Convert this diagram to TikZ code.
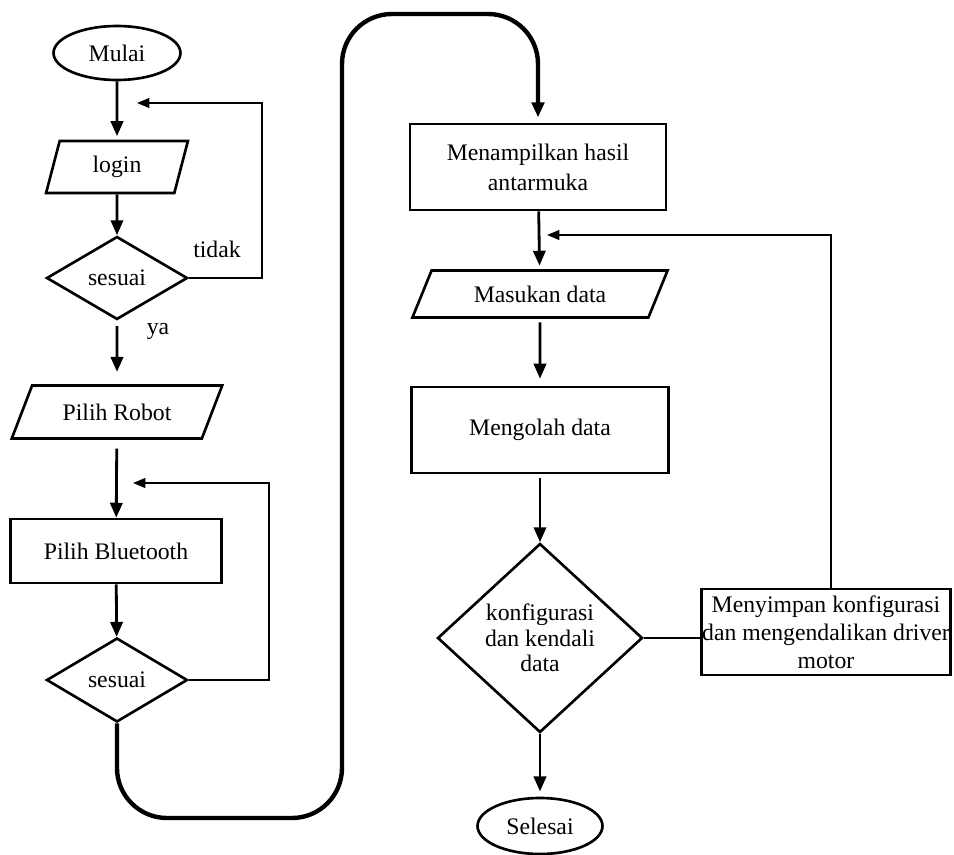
\documentclass[tikz,border=0pt]{standalone}
\usepackage{fontspec}
\setmainfont{Liberation Serif}
\usetikzlibrary{shapes.geometric,arrows.meta}
\begin{document}
\begin{tikzpicture}[x=0.02cm, y=-0.02cm,
  every node/.style={font=\fontsize{13.5}{16}\selectfont},
  term/.style={shape=ellipse, draw=black, line width=1.5pt, minimum width=2.54cm, minimum height=1.08cm, inner sep=0pt},
  io/.style={shape=trapezium, trapezium stretches=true, draw=black, line width=1.5pt, inner sep=0pt},
  proc/.style={shape=rectangle, draw=black, line width=1.5pt, inner sep=0pt, align=center},
  decision/.style={shape=diamond, draw=black, line width=1.5pt, inner sep=0pt, align=center},
  flow/.style={-{Triangle[length=8.5pt,width=7pt]}, line width=1.6pt, draw=black},
  back/.style={-{Triangle[length=7pt,width=5.5pt]}, line width=1.1pt, draw=black},
  bigloop/.style={-{Triangle[length=8.5pt,width=7pt]}, line width=2.5pt, draw=black, rounded corners=1cm}]
\useasboundingbox (0,0) rectangle (954,855);
\node[term] (mulai) at (117,53) {Mulai};
\node[io, minimum width=2.84cm, minimum height=1.04cm, trapezium left angle=75, trapezium right angle=105] (login) at (117,167) {login};
\node[decision, minimum width=2.82cm, minimum height=1.66cm] (sesuai1) at (117,278) {sesuai};
\node (tidak) at (217,249) {tidak};
\node (ya) at (158,331) {ya};
\node[io, minimum width=4.22cm, minimum height=1.06cm, trapezium left angle=52, trapezium right angle=128] (robot) at (117,412) {Pilih Robot};
\node[proc, minimum width=4.22cm, minimum height=1.28cm] (bluetooth) at (116,551) {Pilih Bluetooth};
\node[decision, minimum width=2.82cm, minimum height=1.68cm] (sesuai2) at (117,680) {sesuai};
\node[proc, minimum width=5.12cm, minimum height=1.72cm, font=\fontsize{13.5}{17}\selectfont] (tampil) at (538,167) {Menampilkan hasil\\antarmuka};
\node[io, minimum width=5.14cm, minimum height=0.94cm, trapezium left angle=55, trapezium right angle=125] (masukan) at (540,294) {Masukan data};
\node[proc, minimum width=5.14cm, minimum height=1.72cm] (olah) at (540,430) {Mengolah data};
\node[decision, minimum width=4.1cm, minimum height=3.78cm, font=\fontsize{13.5}{14.5}\selectfont] (konfig) at (540,638) {konfigurasi\\dan kendali\\data};
\node[proc, minimum width=4.98cm, minimum height=1.72cm] (simpan) at (826,632) {Menyimpan konfigurasi\\dan mengendalikan driver\\motor};
\node[term, minimum width=2.5cm, minimum height=1.12cm] (selesai) at (540,826) {Selesai};
\coordinate (masuk1) at (137,103);
\coordinate (masuk2) at (133,483);
\coordinate (masuk3) at (547,235);
\coordinate (bawah) at (342,818);
\coordinate (atas) at (538,14);
\draw[flow, shorten >=2pt] (mulai) -- (login);
\draw[flow] (login) -- (sesuai1);
\draw[flow, shorten <=3pt, shorten >=7pt] (sesuai1) -- (robot);
\draw[back] (sesuai1.east) -- ++(73,0) |- (masuk1);
\draw[flow, shorten <=5pt] (robot) -- (bluetooth);
\draw[flow] (bluetooth) -- (sesuai2);
\draw[back] (sesuai2.east) -- ++(80,0) |- (masuk2);
\draw[bigloop, shorten >=3pt] (sesuai2.south) |- (bawah) |- (atas) -- (tampil.north);
\draw[flow, shorten >=2pt] (tampil) -- (masukan);
\draw[flow, shorten <=2pt, shorten >=4pt] (masukan) -- (olah);
\draw[flow, shorten <=2pt] (olah) -- (konfig);
\draw[flow, shorten >=3pt] (konfig) -- (selesai);
\draw[line width=1.5pt] (konfig.east) -- (konfig.east -| simpan.west);
\draw[back] ([xshift=3pt]simpan.north) |- (masuk3);
\end{tikzpicture}
\end{document}
